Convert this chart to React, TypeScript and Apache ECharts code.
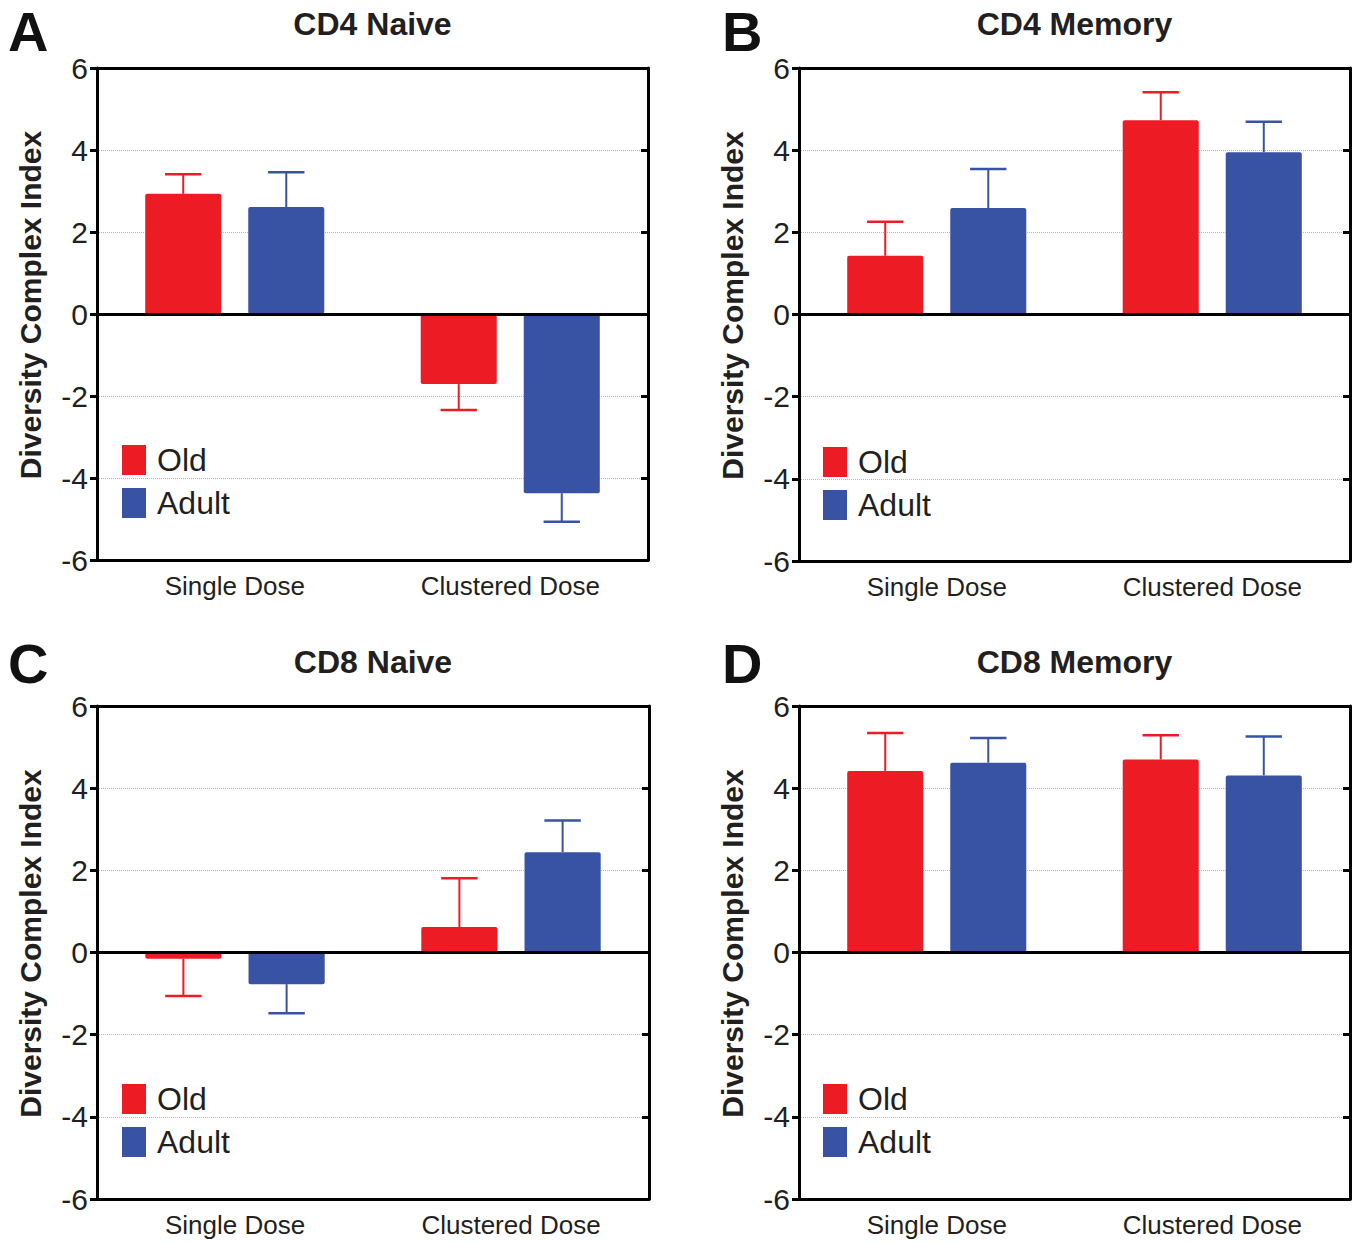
import React, { useEffect, useRef } from "react";
import * as echarts from "echarts";

const categories = ["Single Dose", "Clustered Dose"];
const groupNames = ["Old", "Adult"];
const panelTitles = ["CD4 Naive", "CD4 Memory", "CD8 Naive", "CD8 Memory"];
const panelLetters = ["A", "B", "C", "D"];
const yTicks = { min: -6, max: 6, interval: 2 };
const yAxisName = "Diversity Complex Index";

// values [Single, Clustered] and error-bar ends
const cd4NaiveOld = [2.93, -1.71];
const cd4NaiveOldErr = [3.41, -2.34];
const cd4NaiveAdult = [2.61, -4.37];
const cd4NaiveAdultErr = [3.46, -5.07];

const cd4MemoryOld = [1.43, 4.73];
const cd4MemoryOldErr = [2.26, 5.41];
const cd4MemoryAdult = [2.59, 3.95];
const cd4MemoryAdultErr = [3.54, 4.69];

const cd8NaiveOld = [-0.15, 0.62];
const cd8NaiveOldErr = [-1.06, 1.81];
const cd8NaiveAdult = [-0.77, 2.44];
const cd8NaiveAdultErr = [-1.48, 3.21];

const cd8MemoryOld = [4.42, 4.70];
const cd8MemoryOldErr = [5.34, 5.29];
const cd8MemoryAdult = [4.62, 4.31];
const cd8MemoryAdultErr = [5.22, 5.26];

const panelData = [
  [cd4NaiveOld, cd4NaiveOldErr, cd4NaiveAdult, cd4NaiveAdultErr],
  [cd4MemoryOld, cd4MemoryOldErr, cd4MemoryAdult, cd4MemoryAdultErr],
  [cd8NaiveOld, cd8NaiveOldErr, cd8NaiveAdult, cd8NaiveAdultErr],
  [cd8MemoryOld, cd8MemoryOldErr, cd8MemoryAdult, cd8MemoryAdultErr],
];

const RED = "#ED1C24";
const BLUE = "#3953A4";
const TEXT = "#231F20";
const FONT = "'Liberation Sans', Arial, Helvetica, sans-serif";

const grids = [
  { left: 97, top: 68, width: 551, height: 492 },
  { left: 799, top: 68, width: 551, height: 493 },
  { left: 97, top: 706, width: 552, height: 493 },
  { left: 799, top: 706, width: 551, height: 493 },
];
const letterPos = [
  [8, 31],
  [722, 31],
  [8, 663],
  [722, 663],
];
const legendPos = [
  [122, 443],
  [823, 445],
  [122, 1082],
  [823, 1082],
];

const BAR_W = 0.276;
const OFFSET = 0.187;
const CAP = 0.066;

function makeErrRenderer(sign: number, color: string) {
  return (params: any, api: any) => {
    const cat = api.value(0);
    const v = api.value(1);
    const e = api.value(2);
    const p0 = api.coord([cat, v]);
    const p1 = api.coord([cat, e]);
    const band = api.size([1, 0])[0];
    const x = p0[0] + sign * band * OFFSET;
    const cap = band * CAP;
    return {
      type: "group",
      children: [
        {
          type: "line",
          shape: { x1: x, y1: p0[1], x2: x, y2: p1[1] },
          style: { stroke: color, lineWidth: 2 },
        },
        {
          type: "line",
          shape: { x1: x - cap, y1: p1[1], x2: x + cap, y2: p1[1] },
          style: { stroke: color, lineWidth: 2.5 },
        },
      ],
    };
  };
}

function buildOption() {
  const xAxis: any[] = [];
  const yAxis: any[] = [];
  const series: any[] = [];
  const title: any[] = [];
  const legend: any[] = [];
  const graphic: any[] = [];

  grids.forEach((g, i) => {
    xAxis.push({
      type: "category",
      gridIndex: i,
      data: categories,
      position: "bottom",
      axisLine: { onZero: false, lineStyle: { color: "#000", width: 3 } },
      axisTick: { alignWithLabel: true, inside: true, length: 8, lineStyle: { color: "#000", width: 3 } },
      axisLabel: { color: TEXT, fontSize: 26, fontFamily: FONT, margin: 13 },
      splitLine: { show: false },
    });
    xAxis.push({
      type: "category",
      gridIndex: i,
      data: categories,
      position: "top",
      axisLine: { onZero: false, lineStyle: { color: "#000", width: 3 } },
      axisTick: { alignWithLabel: true, inside: true, length: 8, lineStyle: { color: "#000", width: 3 } },
      axisLabel: { show: false },
      splitLine: { show: false },
    });
    yAxis.push({
      type: "value",
      gridIndex: i,
      min: yTicks.min,
      max: yTicks.max,
      interval: yTicks.interval,
      position: "left",
      name: yAxisName,
      nameLocation: "middle",
      nameGap: 52,
      nameRotate: 90,
      nameTextStyle: {
        color: TEXT,
        fontSize: 30,
        fontWeight: "bold",
        fontFamily: FONT,
        padding: [0, 0, 0, 18],
      },
      axisLine: { show: true, onZero: false, lineStyle: { color: "#000", width: 3 } },
      axisTick: { show: true, length: 7, lineStyle: { color: "#000", width: 3 } },
      axisLabel: { color: TEXT, fontSize: 30, fontFamily: FONT, margin: 9 },
      splitLine: { show: true, lineStyle: { color: "#b8b8b8", width: 1, type: "dotted" } },
    });
    yAxis.push({
      type: "value",
      gridIndex: i,
      min: yTicks.min,
      max: yTicks.max,
      interval: yTicks.interval,
      position: "right",
      axisLine: { show: true, onZero: false, lineStyle: { color: "#000", width: 3 } },
      axisTick: { show: true, inside: true, length: 7, lineStyle: { color: "#000", width: 3 } },
      axisLabel: { show: false },
      splitLine: { show: false },
    });

    const [old, oldErr, adult, adultErr] = panelData[i];
    const xi = i * 2;
    const yi = i * 2;
    series.push({
      type: "bar",
      name: groupNames[0],
      xAxisIndex: xi,
      yAxisIndex: yi,
      data: old,
      barWidth: BAR_W * 100 + "%",
      barGap: "35.5%",
      itemStyle: { color: RED, borderRadius: 2 },
      z: 3,
      markLine: {
        silent: true,
        symbol: "none",
        label: { show: false },
        lineStyle: { color: "#000", width: 3, type: "solid" },
        data: [{ yAxis: 0 }],
        z: 10,
      },
    });
    series.push({
      type: "bar",
      name: groupNames[1],
      xAxisIndex: xi,
      yAxisIndex: yi,
      data: adult,
      barWidth: BAR_W * 100 + "%",
      barGap: "35.5%",
      itemStyle: { color: BLUE, borderRadius: 2 },
      z: 3,
    });
    series.push({
      type: "custom",
      name: "Old error",
      xAxisIndex: xi,
      yAxisIndex: yi,
      renderItem: makeErrRenderer(-1, RED),
      data: old.map((v, k) => [k, v, oldErr[k]]),
      z: 2,
      silent: true,
    });
    series.push({
      type: "custom",
      name: "Adult error",
      xAxisIndex: xi,
      yAxisIndex: yi,
      renderItem: makeErrRenderer(1, BLUE),
      data: adult.map((v, k) => [k, v, adultErr[k]]),
      z: 2,
      silent: true,
    });

    title.push({
      text: panelTitles[i],
      left: g.left + g.width / 2,
      top: g.top - 60,
      textAlign: "center",
      padding: 0,
      textStyle: { color: TEXT, fontSize: 32, fontWeight: "bold", fontFamily: FONT },
    });

    legend.push({
      orient: "vertical",
      left: legendPos[i][0] - 5,
      top: legendPos[i][1] - 4,
      data: [
        { name: groupNames[0], itemStyle: { color: RED } },
        { name: groupNames[1], itemStyle: { color: BLUE } },
      ],
      icon: "rect",
      itemWidth: 24,
      itemHeight: 30,
      itemGap: 11,
      selectedMode: false,
      textStyle: { color: TEXT, fontSize: 32, fontFamily: FONT, lineHeight: 30, padding: [0, 0, 0, 6] },
    });

    graphic.push({
      type: "text",
      left: letterPos[i][0],
      top: letterPos[i][1] - 28,
      style: {
        text: panelLetters[i],
        fill: "#111",
        font: `bold 56px ${FONT}`,
      },
    });
  });

  return {
    animation: false,
    backgroundColor: "#fff",
    grid: grids.map((g) => ({ ...g, containLabel: false })),
    xAxis,
    yAxis,
    series,
    title,
    legend,
    graphic,
  };
}

export default function App() {
  const ref = useRef<HTMLDivElement>(null);
  useEffect(() => {
    if (!ref.current) return;
    const chart = echarts.init(ref.current, undefined, { renderer: "svg" });
    chart.setOption(buildOption() as any);
    return () => chart.dispose();
  }, []);
  return (
    <div
      ref={ref}
      style={{ position: "absolute", left: 0, top: 0, width: 1359, height: 1243, background: "#fff" }}
    />
  );
}
